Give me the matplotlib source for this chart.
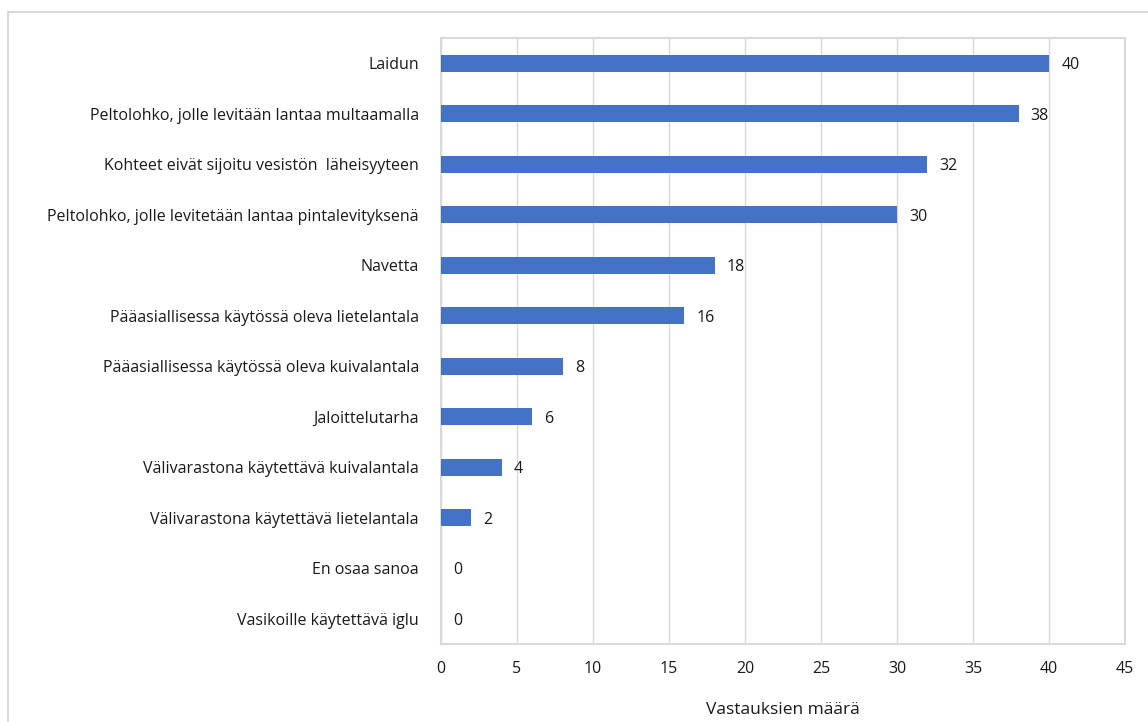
import matplotlib
matplotlib.use("Agg")
import matplotlib.pyplot as plt
from matplotlib.patches import Rectangle

categories = [
    "Laidun",
    "Peltolohko, jolle levitään lantaa multaamalla",
    "Kohteet eivät sijoitu vesistön  läheisyyteen",
    "Peltolohko, jolle levitetään lantaa pintalevityksenä",
    "Navetta",
    "Pääasiallisessa käytössä oleva lietelantala",
    "Pääasiallisessa käytössä oleva kuivalantala",
    "Jaloittelutarha",
    "Välivarastona käytettävä kuivalantala",
    "Välivarastona käytettävä lietelantala",
    "En osaa sanoa",
    "Vasikoille käytettävä iglu",
]
values = [40, 38, 32, 30, 18, 16, 8, 6, 4, 2, 0, 0]
xticks = [0, 5, 10, 15, 20, 25, 30, 35, 40, 45]

plt.rcParams['font.family'] = ['Open Sans', 'DejaVu Sans']

fig = plt.figure(figsize=(11.48, 7.22), dpi=100)
ax = fig.add_axes([441 / 1148, 1 - 644 / 722, (1125 - 441) / 1148, (644 - 38) / 722])

# outer chart frame
fig.patches.append(Rectangle((8 / 1148, -0.1), 1.2, 1.1 - 12 / 722, transform=fig.transFigure,
                             fill=False, edgecolor='#d9d9d9', linewidth=1.5, zorder=0))

y = list(range(len(categories)))
ax.barh(y, values, height=0.34, color='#4472c4', zorder=3)
for yi, v in zip(y, values):
    ax.text(v + 0.8, yi + 0.04, str(v), va='center', ha='left', fontsize=11.5, color='#1a1a1a')

ax.set_ylim(len(categories) - 0.5, -0.5)
ax.set_yticks(y)
ax.set_yticklabels(categories, fontsize=11.5, color='#1a1a1a')
ax.set_xlim(0, 45)
ax.set_xticks(xticks)
ax.set_xticklabels([str(t) for t in xticks], fontsize=11.5, color='#1a1a1a')
ax.tick_params(axis='both', length=0)
ax.tick_params(axis='y', pad=16)
ax.tick_params(axis='x', pad=12)
ax.set_xlabel("Vastauksien määrä", fontsize=12.5, color='#1a1a1a', labelpad=18)

ax.grid(axis='x', color='#d9d9d9', linewidth=1.0, zorder=0)
for s in ax.spines.values():
    s.set_color('#d9d9d9')
    s.set_linewidth(1.5)

fig.savefig("out.png", dpi=100)
